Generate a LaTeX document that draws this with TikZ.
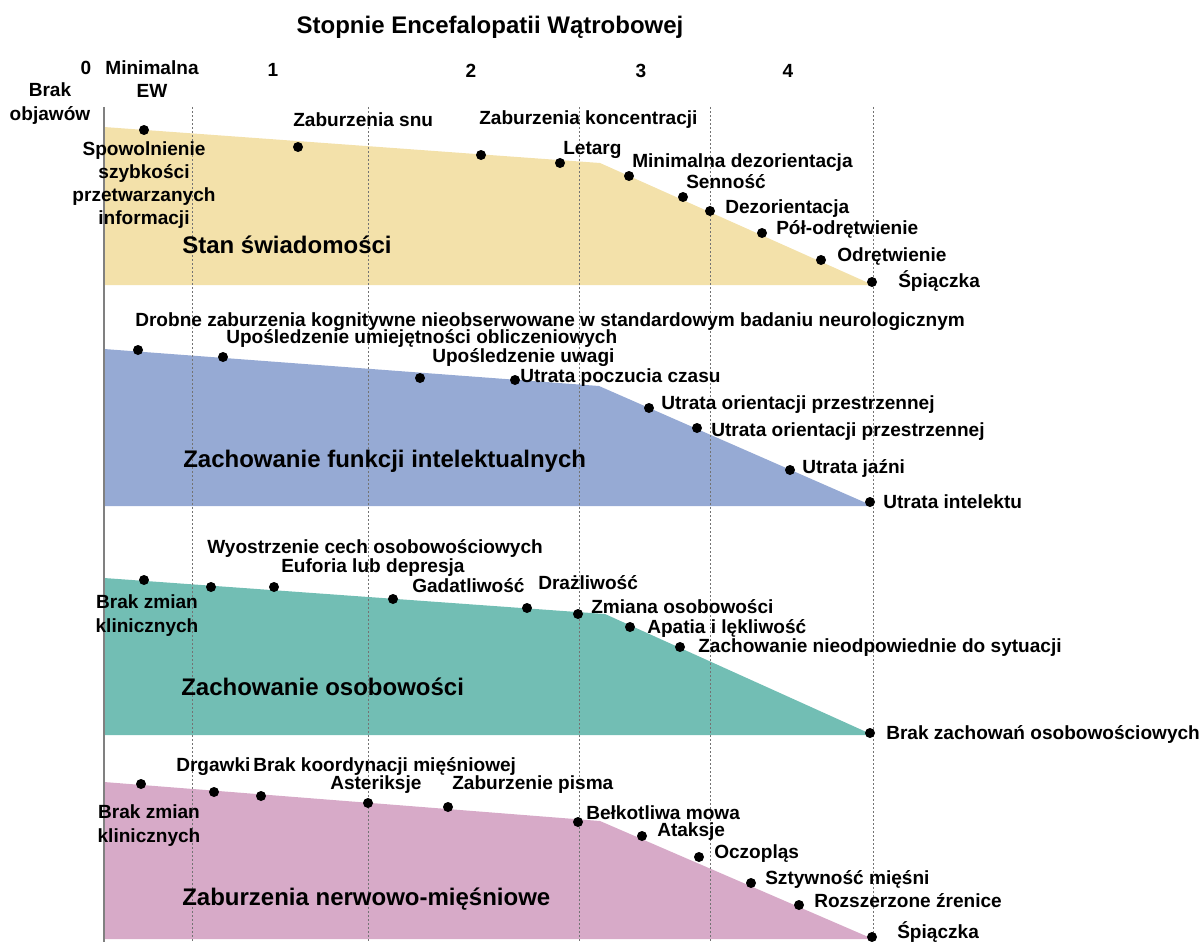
\documentclass[tikz,border=0pt]{standalone}
\usepackage{fontspec}
\setmainfont{Liberation Sans}

\definecolor{bandyellow}{RGB}{243,225,170}
\definecolor{bandblue}{RGB}{150,170,212}
\definecolor{bandteal}{RGB}{114,190,180}
\definecolor{bandpink}{RGB}{215,170,200}

\tikzset{
  sdot/.style={circle,fill=black,inner sep=0pt,minimum size=7.5pt},
  symlbl/.style={anchor=west,inner sep=0pt,text height=10.2pt,text depth=0pt,
    font=\bfseries\fontsize{14.3}{17.4}\selectfont},
  multilbl/.style={anchor=center,inner sep=0pt,align=center,
    font=\bfseries\fontsize{14.3}{17.4}\selectfont},
  bandlbl/.style={anchor=west,inner sep=0pt,text height=12.8pt,text depth=0pt,
    font=\bfseries\fontsize{18}{20}\selectfont},
  gridline/.style={color=black!55,line width=0.6pt,dash pattern={on 1.5pt off 1.5pt}},
}

\begin{document}
\begin{tikzpicture}[x=0.75pt,y=0.75pt,yscale=-1,xscale=1]
\useasboundingbox (0,0) rectangle (1203,942);

%Shape: Polygon
\fill [bandyellow] (104,127) -- (600,163) -- (873,285) -- (104,285) -- cycle ;
%Shape: Polygon
\fill [bandblue] (104,349) -- (599,386) -- (873,506) -- (104,506) -- cycle ;
%Shape: Polygon
\fill [bandteal] (104,578) -- (605,614) -- (873,735) -- (104,735) -- cycle ;
%Shape: Polygon
\fill [bandpink] (104,782) -- (600,821) -- (873,939) -- (104,939) -- cycle ;

%Straight Lines
\draw [color=black!50,line width=0.8pt] (104,107) -- (104,942) ;
\foreach \gx in {192,368,579,710,873}
  \draw [gridline] (\gx,107) -- (\gx,942) ;

% Text Node
\node [anchor=center,inner sep=0pt,font=\bfseries\fontsize{18}{20}\selectfont] (title) at (490,27) {Stopnie Encefalopatii Wątrobowej};
\node [symlbl,anchor=center] (st0) at (86,68) {0};
\node [multilbl] (stmin) at (152,79) {Minimalna\\EW};
\node [multilbl] (stbrak) at (50,103.5) {Brak\\objawów};
\node [symlbl,anchor=center] (st1) at (273,70) {1};
\node [symlbl,anchor=center] (st2) at (471,71) {2};
\node [symlbl,anchor=center] (st3) at (641,71) {3};
\node [symlbl,anchor=center] (st4) at (788,71) {4};

%Stan swiadomosci
\node [sdot] (a1) at (144,130) {};
\node [sdot] (a2) at (298,147) {};
\node [sdot] (a3) at (481,155) {};
\node [sdot] (a4) at (560,163) {};
\node [sdot] (a5) at (629,176) {};
\node [sdot] (a6) at (683,197) {};
\node [sdot] (a7) at (710,211) {};
\node [sdot] (a8) at (762,233) {};
\node [sdot] (a9) at (821,260) {};
\node [sdot] (a10) at (872,282) {};
\node [multilbl] (la1) at (144,185) {Spowolnienie\\szybkości\\przetwarzanych\\informacji};
\node [symlbl] (la2) at (293,120) {Zaburzenia snu};
\node [symlbl] (la3) at (479,118) {Zaburzenia koncentracji};
\node [symlbl] (la4) at (563,148) {Letarg};
\node [symlbl] (la5) at (632,161) {Minimalna dezorientacja};
\node [symlbl] (la6) at (686,182) {Senność};
\node [symlbl] (la7) at (725,207) {Dezorientacja};
\node [symlbl] (la8) at (776,228) {Pół-odrętwienie};
\node [symlbl] (la9) at (837,255) {Odrętwienie};
\node [symlbl] (la10) at (898,281) {Śpiączka};
\node [bandlbl] (banda) at (182,245) {Stan świadomości};

%Zachowanie funkcji intelektualnych
\node [sdot] (b1) at (138,350) {};
\node [sdot] (b2) at (223,357) {};
\node [sdot] (b3) at (420,378) {};
\node [sdot] (b4) at (515,380) {};
\node [sdot] (b5) at (649,408) {};
\node [sdot] (b6) at (697,428) {};
\node [sdot] (b7) at (790,470) {};
\node [sdot] (b8) at (870,502) {};
\node [symlbl] (lb1) at (135,320) {Drobne zaburzenia kognitywne nieobserwowane w standardowym badaniu neurologicznym};
\node [symlbl] (lb2) at (226,337) {Upośledzenie umiejętności obliczeniowych};
\node [symlbl] (lb3) at (432,356) {Upośledzenie uwagi};
\node [symlbl] (lb4) at (520,376) {Utrata poczucia czasu};
\node [symlbl] (lb5) at (661,403) {Utrata orientacji przestrzennej};
\node [symlbl] (lb6) at (711,430) {Utrata orientacji przestrzennej};
\node [symlbl] (lb7) at (802,467) {Utrata jaźni};
\node [symlbl] (lb8) at (883,502) {Utrata intelektu};
\node [bandlbl] (bandb) at (183,459) {Zachowanie funkcji intelektualnych};

%Zachowanie osobowosci
\node [sdot] (c1) at (144,580) {};
\node [sdot] (c2) at (211,587) {};
\node [sdot] (c3) at (274,587) {};
\node [sdot] (c4) at (393,599) {};
\node [sdot] (c5) at (527,608) {};
\node [sdot] (c6) at (578,614) {};
\node [sdot] (c7) at (630,627) {};
\node [sdot] (c8) at (680,647) {};
\node [sdot] (c9) at (870,733) {};
\node [multilbl] (lc1) at (147,615.5) {Brak zmian\\klinicznych};
\node [symlbl] (lc2) at (207,547) {Wyostrzenie cech osobowościowych};
\node [symlbl] (lc3) at (281,566) {Euforia lub depresja};
\node [symlbl] (lc4) at (412,586) {Gadatliwość};
\node [symlbl] (lc5) at (538,583) {Drażliwość};
\node [symlbl] (lc6) at (591,607) {Zmiana osobowości};
\node [symlbl] (lc7) at (647,627) {Apatia i lękliwość};
\node [symlbl] (lc8) at (698,646) {Zachowanie nieodpowiednie do sytuacji};
\node [symlbl] (lc9) at (886,733) {Brak zachowań osobowościowych};
\node [bandlbl] (bandc) at (181,687) {Zachowanie osobowości};

%Zaburzenia nerwowo-miesniowe
\node [sdot] (d1) at (141,784) {};
\node [sdot] (d2) at (214,792) {};
\node [sdot] (d3) at (261,796) {};
\node [sdot] (d4) at (368,803) {};
\node [sdot] (d5) at (448,807) {};
\node [sdot] (d6) at (578,822) {};
\node [sdot] (d7) at (642,836) {};
\node [sdot] (d8) at (699,857) {};
\node [sdot] (d9) at (751,883) {};
\node [sdot] (d10) at (799,905) {};
\node [sdot] (d11) at (872,937) {};
\node [multilbl] (ld1) at (149,825.5) {Brak zmian\\klinicznych};
\node [symlbl] (ld2) at (176,765) {Drgawki};
\node [symlbl] (ld3) at (253,765) {Brak koordynacji mięśniowej};
\node [symlbl] (ld4) at (330,783) {Asteriksje};
\node [symlbl] (ld5) at (452,783) {Zaburzenie pisma};
\node [symlbl] (ld6) at (586,813) {Bełkotliwa mowa};
\node [symlbl] (ld7) at (657,830) {Ataksje};
\node [symlbl] (ld8) at (714,852) {Oczopląs};
\node [symlbl] (ld9) at (765,878) {Sztywność mięśni};
\node [symlbl] (ld10) at (814,901) {Rozszerzone źrenice};
\node [symlbl] (ld11) at (897,932) {Śpiączka};
\node [bandlbl] (bandd) at (182,897) {Zaburzenia nerwowo-mięśniowe};

\end{tikzpicture}
\end{document}
